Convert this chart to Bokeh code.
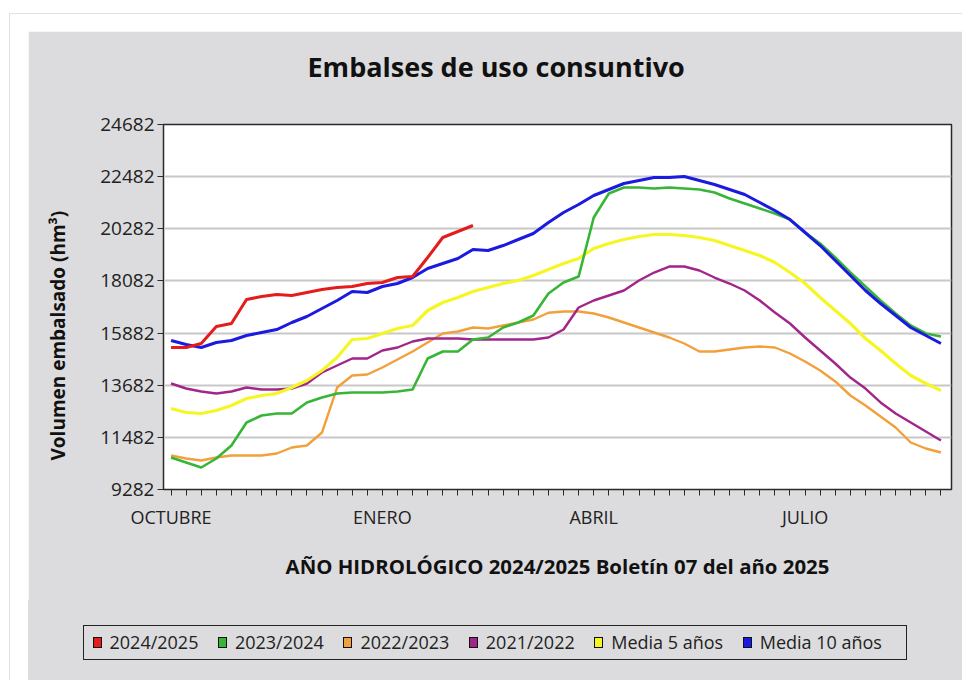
from bokeh.plotting import figure
from bokeh.models import FixedTicker, Range1d, Spacer, Div, Title
from bokeh.layouts import column, row
from bokeh.embed import file_html
from bokeh.resources import INLINE

# ---------------- data ----------------
weeks = list(range(52))
month_labels = ["OCTUBRE", "ENERO", "ABRIL", "JULIO"]
month_pos = [0, 14, 28, 42]
y_ticks = [9282, 11482, 13682, 15882, 18082, 20282, 22482, 24682]

s_2024_2025 = [15273, 15273, 15442, 16159, 16286, 17298, 17425, 17509, 17467, 17593,
               17720, 17804, 17846, 17973, 18015, 18226, 18268, 19070, 19914, 20167, 20420]
s_2023_2024 = [10632, 10421, 10210, 10590, 11138, 12109, 12404, 12488, 12488, 12953,
               13163, 13332, 13374, 13374, 13374, 13416, 13501, 14809, 15104, 15104,
               15611, 15695, 16117, 16328, 16623, 17551, 18015, 18268, 20758, 21770,
               22023, 22023, 21981, 22023, 21981, 21939, 21812, 21559, 21348, 21137,
               20926, 20673, 20125, 19661, 19070, 18437, 17847, 17256, 16707, 16201,
               15864, 15737]
s_2022_2023 = [10716, 10590, 10506, 10632, 10716, 10716, 10716, 10801, 11054, 11138,
               11687, 13585, 14092, 14134, 14429, 14767, 15104, 15484, 15864, 15948,
               16117, 16075, 16201, 16328, 16454, 16739, 16792, 16792, 16707, 16539,
               16328, 16117, 15906, 15695, 15442, 15104, 15104, 15189, 15273, 15315,
               15273, 15020, 14682, 14303, 13839, 13248, 12826, 12362, 11898, 11265,
               11012, 10843]
s_2021_2022 = [13754, 13543, 13417, 13332, 13417, 13585, 13501, 13501, 13543, 13754,
               14218, 14514, 14809, 14809, 15146, 15273, 15526, 15653, 15653, 15653,
               15611, 15611, 15611, 15611, 15611, 15695, 16032, 16961, 17256, 17467,
               17678, 18100, 18437, 18690, 18690, 18522, 18226, 17973, 17678, 17256,
               16750, 16286, 15695, 15146, 14598, 14007, 13543, 12953, 12488, 12109,
               11729, 11349]
media_5 = [12699, 12531, 12488, 12615, 12826, 13121, 13248, 13332, 13585, 13881,
           14303, 14851, 15611, 15653, 15864, 16075, 16201, 16834, 17172, 17382,
           17636, 17804, 17973, 18100, 18311, 18564, 18817, 19028, 19450, 19661,
           19830, 19956, 20040, 20040, 19998, 19914, 19787, 19576, 19365, 19154,
           18859, 18437, 17973, 17382, 16834, 16286, 15653, 15146, 14598, 14092,
           13754, 13459]
media_10 = [15568, 15400, 15273, 15484, 15568, 15779, 15906, 16032, 16328, 16581,
            16918, 17256, 17636, 17594, 17847, 17973, 18226, 18606, 18817, 19028,
            19408, 19365, 19576, 19830, 20083, 20547, 20969, 21306, 21686, 21939,
            22192, 22319, 22445, 22445, 22487, 22319, 22150, 21939, 21728, 21391,
            21053, 20673, 20125, 19576, 18944, 18311, 17678, 17129, 16623, 16117,
            15779, 15442]

series_names = ["2024/2025", "2023/2024", "2022/2023", "2021/2022", "Media 5 años", "Media 10 años"]
series_values = [s_2024_2025, s_2023_2024, s_2022_2023, s_2021_2022, media_5, media_10]
series_colors = ["#e41c1c", "#36b536", "#f2a03c", "#a2258a", "#f6f625", "#1a1ae0"]
series_widths = [3, 2.6, 2.4, 2.4, 3.2, 3]

FONT = "Open Sans"
PANEL = "#dcdcde"

p = figure(width=934, height=569, output_backend="svg", toolbar_location=None,
           x_range=Range1d(-0.5, 51.7), y_range=Range1d(9282, 24682),
           min_border_left=135, min_border_right=11, min_border_top=93,
           min_border_bottom=111)
p.background_fill_color = "white"
p.border_fill_color = PANEL
p.outline_line_color = "#2a2a2a"
p.outline_line_width = 1.5

# empty gap between frame and main title (keeps the title high without moving the frame)
p.add_layout(Title(text=" ", text_font_size="1px", standoff=32), "above")

p.title.text = "Embalses de uso consuntivo"
p.title.text_font = FONT
p.title.text_font_size = "27px"
p.title.text_font_style = "bold"
p.title.text_color = "#111111"
p.title.align = "left"
p.title.offset = 144
p.title.standoff = 10

order = [2, 3, 4, 1, 5, 0]
for k in order:
    vals = series_values[k]
    p.line(weeks[:len(vals)], vals, line_color=series_colors[k],
           line_width=series_widths[k], line_join="round")

# x axis
p.xaxis.ticker = FixedTicker(ticks=weeks)
overrides = {w: "" for w in weeks}
for pos, lab in zip(month_pos, month_labels):
    overrides[pos] = lab
p.xaxis.major_label_overrides = overrides
p.xaxis.major_label_text_font = FONT
p.xaxis.major_label_text_font_size = "18px"
p.xaxis.major_label_text_color = "#222222"
p.xaxis.major_tick_out = 6
p.xaxis.major_tick_in = 0
p.xaxis.minor_tick_out = 0
p.xaxis.major_label_standoff = 9
p.xaxis.axis_line_color = "#2a2a2a"
p.xaxis.major_tick_line_color = "#2a2a2a"
p.xaxis.axis_label = "AÑO HIDROLÓGICO 2024/2025 Boletín 07 del año 2025"
p.xaxis.axis_label_text_font = FONT
p.xaxis.axis_label_text_font_size = "20.4px"
p.xaxis.axis_label_text_font_style = "bold"
p.xaxis.axis_label_text_color = "#111111"
p.xaxis.axis_label_standoff = 20

# y axis
p.yaxis.ticker = FixedTicker(ticks=y_ticks)
p.yaxis.major_label_text_font = FONT
p.yaxis.major_label_text_font_size = "19px"
p.yaxis.major_label_text_color = "#222222"
p.yaxis.major_tick_out = 6
p.yaxis.major_tick_in = 0
p.yaxis.minor_tick_out = 0
p.yaxis.major_label_standoff = 3
p.yaxis.axis_line_color = "#2a2a2a"
p.yaxis.major_tick_line_color = "#2a2a2a"

# gap, then the y title (a Title so it can sit a little low, as in the reference)
p.add_layout(Title(text=" ", text_font_size="1px", standoff=22), "left")
ytitle = Title(text="Volumen embalsado (hm³)", text_font=FONT, text_font_size="19px",
               text_font_style="bold", text_color="#111111", align="left",
               offset=29, standoff=4)
p.add_layout(ytitle, "left")

p.xgrid.grid_line_color = None
p.ygrid.grid_line_color = "#c8c8c8"
p.ygrid.grid_line_width = 2

# legend strip (HTML) below the chart, same panel colour
item_html = []
for i, (name, col) in enumerate(zip(series_names, series_colors)):
    gap = "0" if i == len(series_names) - 1 else "19.5px"
    item_html.append(
        f'<div style="display:flex;align-items:center;flex:none;margin-right:{gap};">'
        f'<span style="display:inline-block;width:9px;height:11px;background:{col};'
        'border:1px solid #111;margin-right:8px;flex:none;"></span>'
        f'<span style="white-space:nowrap;">{name}</span></div>')
legend_html = (
    '<div style="box-sizing:border-box;margin-left:55px;margin-top:25px;width:824px;'
    'height:35px;border:1.5px solid #222;display:flex;align-items:center;'
    f'padding-left:8.5px;font-family:\'{FONT}\';font-size:18px;color:#222;'
    f'background:{PANEL};">' + "".join(item_html) + '</div>')
legend_div = Div(text=legend_html, width=934, height=80,
                 styles={"background-color": PANEL, "margin": "0", "padding": "0"})

card = column(Spacer(height=17), row(Spacer(width=18), column(p, legend_div, spacing=0)),
              spacing=0, styles={"border-left": "1px solid #e2e2e2",
                                 "border-top": "1px solid #e2e2e2"})
layout = column(Spacer(height=13), row(Spacer(width=9), card), spacing=0)

open("out.html", "w").write(file_html(layout, INLINE))
